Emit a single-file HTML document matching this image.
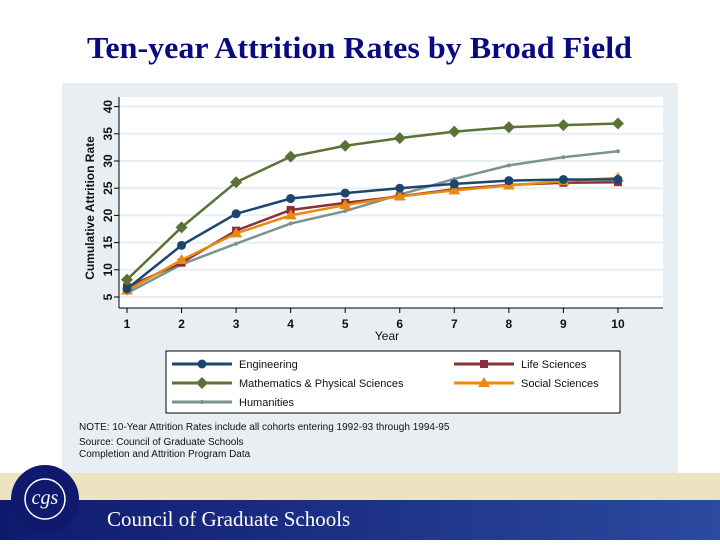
<!DOCTYPE html>
<html><head><meta charset="utf-8"><style>
body{margin:0;width:720px;height:540px;overflow:hidden;background:#fff;font-family:"Liberation Sans",sans-serif;}
</style></head><body>
<svg width="720" height="540" viewBox="0 0 720 540" xmlns="http://www.w3.org/2000/svg">
<defs><linearGradient id="foot" x1="0" x2="1" y1="0" y2="0"><stop offset="0" stop-color="#0f1a6e"/><stop offset="1" stop-color="#2b4aa0"/></linearGradient></defs>
<text x="87" y="58" textLength="545" lengthAdjust="spacingAndGlyphs" font-family="Liberation Serif,serif" font-weight="bold" font-size="31" fill="#0a0a80">Ten-year Attrition Rates by Broad Field</text>
<rect x="62" y="83" width="616" height="390" fill="#e8eef2"/>
<rect x="119" y="97" width="544" height="211" fill="#fff"/>
<g id="grid"></g>
<g id="axes"></g>
<g id="series"></g>
<text transform="translate(94,208) rotate(-90)" text-anchor="middle" font-size="12" font-weight="bold" fill="#111">Cumulative Attrition Rate</text>
<text x="387" y="340" text-anchor="middle" font-size="12" fill="#111">Year</text>
<g>
<rect x="166" y="351" width="454" height="62" fill="#fff" stroke="#000" stroke-width="1"/>
<g id="legend"></g>
</g>
<g font-size="10" fill="#111">
<text x="79" y="430">NOTE: 10-Year Attrition Rates include all cohorts entering 1992-93 through 1994-95</text>
<text x="79" y="445">Source: Council of Graduate Schools</text>
<text x="79" y="457">Completion and Attrition Program Data</text>
</g>
<rect x="0" y="473" width="720" height="32" fill="#ece3c0"/>
<rect x="0" y="500" width="720" height="40" fill="url(#foot)"/>
<circle cx="45" cy="499" r="34" fill="#0f1a6e"/>
<circle cx="45" cy="499" r="20" fill="none" stroke="#fff" stroke-width="1.5"/>
<text x="45" y="504" text-anchor="middle" font-family="Liberation Serif,serif" font-style="italic" font-size="20" fill="#fff">cgs</text>
<text x="107" y="526" font-family="Liberation Serif,serif" font-size="21" fill="#fff">Council of Graduate Schools</text>
</svg>
<script>
const years=[1,2,3,4,5,6,7,8,9,10];
const yTicks=[5,10,15,20,25,30,35,40];
const engineering=[6.5,14.5,20.3,23.1,24.1,25.0,25.8,26.4,26.6,26.6];
const lifeSciences=[6.8,11.3,17.2,21.0,22.3,23.5,24.8,25.6,26.0,26.1];
const mathPhys=[8.2,17.8,26.1,30.8,32.8,34.2,35.4,36.2,36.6,36.9];
const socialSciences=[6.2,11.8,16.7,20.0,21.9,23.5,24.6,25.5,26.3,26.9];
const humanities=[5.7,11.0,14.8,18.5,20.8,23.8,26.7,29.2,30.7,31.8];
const NS="http://www.w3.org/2000/svg";
function X(v){return 127+(v-1)*54.55;}
function Y(v){return 297-(v-5)*5.44;}
function mk(t,a,p){const e=document.createElementNS(NS,t);for(const k in a)e.setAttribute(k,a[k]);p.appendChild(e);return e;}
const grid=document.getElementById('grid'),axes=document.getElementById('axes'),ser=document.getElementById('series'),leg=document.getElementById('legend');
mk('line',{x1:119,x2:119,y1:97,y2:308,stroke:'#000'},axes);
mk('line',{x1:119,x2:663,y1:308,y2:308,stroke:'#000'},axes);
yTicks.forEach(t=>{
 const g=mk('line',{x1:119,x2:663,y1:Y(t),y2:Y(t),stroke:'#e8eef2','stroke-width':2},grid);
 
 
 mk('line',{x1:114,x2:119,y1:Y(t),y2:Y(t),stroke:'#000'},axes);
 const tx=mk('text',{transform:`translate(${112},${Y(t)}) rotate(-90)`,'text-anchor':'middle','font-size':12,'font-weight':'bold',fill:'#111'},axes);
 tx.textContent=t;
 
 
});
years.forEach(t=>{
 mk('line',{x1:X(t),x2:X(t),y1:308,y2:313,stroke:'#000'},axes);
 const tx=mk('text',{x:X(t),y:328,'text-anchor':'middle','font-size':12,'font-weight':'bold',fill:'#111'},axes);
 tx.textContent=t;
 
 
});
function marker(shape,x,y,c,p){
 if(shape==='circle')return mk('circle',{cx:x,cy:y,r:4.5,fill:c},p);
 if(shape==='square')return mk('rect',{x:x-4,y:y-4,width:8,height:8,fill:c},p);
 if(shape==='diamond')return mk('polygon',{points:`${x},${y-6} ${x+6},${y} ${x},${y+6} ${x-6},${y}`,fill:c},p);
 if(shape==='triangle')return mk('polygon',{points:`${x},${y-6} ${x+6},${y+4} ${x-6},${y+4}`,fill:c},p);
 return mk('circle',{cx:x,cy:y,r:2,fill:c},p);
}
const S=[
 {n:'Humanities',d:humanities,c:'#7a9290',s:'x',lx:172,ly:402,key:'humanities'},
 {n:'Life Sciences',d:lifeSciences,c:'#8b3038',s:'square',lx:454,ly:364,key:'life-sciences'},
 {n:'Social Sciences',d:socialSciences,c:'#e88a10',s:'triangle',lx:454,ly:383,key:'social-sciences'},
 {n:'Engineering',d:engineering,c:'#1e4470',s:'circle',lx:172,ly:364,key:'engineering'},
 {n:'Mathematics & Physical Sciences',d:mathPhys,c:'#5a7236',s:'diamond',lx:172,ly:383,key:'math-physical-sciences'}
];
S.forEach(o=>{
 const g=mk('g',{},ser);
 
 
 mk('polyline',{points:o.d.map((v,i)=>X(years[i])+','+Y(v)).join(' '),fill:'none',stroke:o.c,'stroke-width':2.5},g);
 o.d.forEach((v,i)=>{const m=marker(o.s,X(years[i]),Y(v),o.c,g);
  
  });
 const lg=mk('g',{},leg);
 
 
 mk('line',{x1:o.lx,x2:o.lx+60,y1:o.ly,y2:o.ly,stroke:o.c,'stroke-width':3},lg);
 marker(o.s,o.lx+30,o.ly,o.c,lg);
 const t=mk('text',{x:o.lx+67,y:o.ly+4,'font-size':11,fill:'#111'},lg);
 t.textContent=o.n;
});
</script>
</body></html>
